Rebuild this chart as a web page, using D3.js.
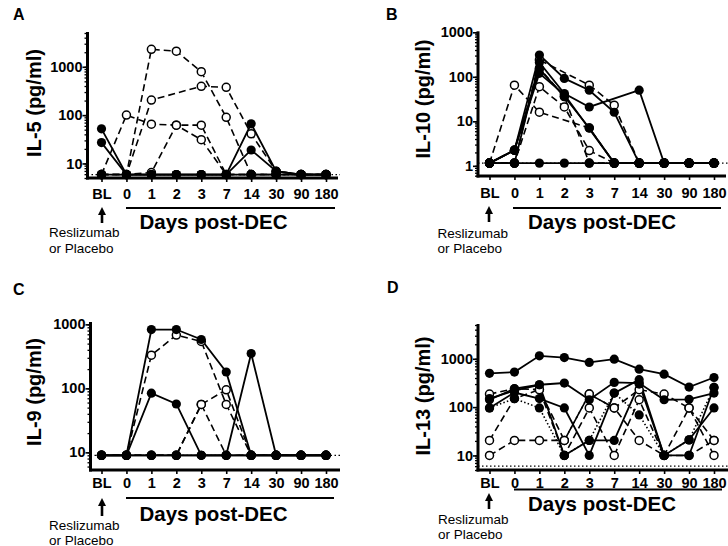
<!DOCTYPE html>
<html><head><meta charset="utf-8">
<script src="https://cdn.jsdelivr.net/npm/d3@7"></script>
<style>body{margin:0;background:#fff}svg{display:block}</style>
</head><body><svg id="c" width="728" height="546"></svg>
<script>
// ---------- DATA ----------
const days = ["BL","0","1","2","3","7","14","30","90","180"];
const yTicksA = [10, 100, 1000];
const yTicksB = [1, 10, 100, 1000];
const yTicksC = [10, 100, 1000];
const yTicksD = [10, 100, 1000];
const lodA = 5.9, lodB = 1.15, lodC = 9, lodD = 6;

// IL-5 (A)
const il5Filled = [
  [52, 5.9, 5.9, 5.9, 5.9, 5.9, 66, 6.9, 5.9, 5.9],
  [27, 5.9, 5.9, 5.9, 5.9, 5.9, 19, 6.9, 5.9, 5.9],
  [5.9, 5.9, 5.9, 5.9, 5.9, 5.9, 5.9, 5.9, 5.9, 5.9]
];
const il5Open = [
  [5.9, 5.9, 2300, 2100, 790, 90, 5.9, 5.9, 5.9, 5.9],
  [5.9, 5.9, 205, null, 395, 375, 41, 6.9, 5.9, 5.9],
  [5.9, 100, 65, 62, 62, 5.9, 5.9, 5.9, 5.9, 5.9],
  [5.9, 5.9, 6.5, 62, 31, 5.9, 5.9, 5.9, 5.9, 5.9]
];

// IL-10 (B)
const il10Filled = [
  [1.15, 2.25, 308, 92, 50, 16, 1.15, 1.15, 1.15, 1.15],
  [1.15, 1.15, 210, 42, 21, null, 50, 1.15, 1.15, 1.15],
  [1.15, 2.25, 150, 36, 7.1, 1.15, 1.15, 1.15, 1.15, 1.15],
  [1.15, 2.25, 120, 40, null, 1.15, 1.15, 1.15, 1.15, 1.15],
  [1.15, 1.15, 1.15, 1.15, 1.15, 1.15, 1.15, 1.15, 1.15, 1.15]
];
const il10Open = [
  [1.15, 65, 16, null, 7.1, 1.15, 1.15, 1.15, 1.15, 1.15],
  [1.15, 1.15, 60, 21, 2.2, 1.15, 1.15, 1.15, 1.15, 1.15],
  [1.15, 1.15, 240, null, 65, 23, 1.15, 1.15, 1.15, 1.15],
  [1.15, 2.25, 155, 36, 1.15, 1.15, 1.15, 1.15, 1.15, 1.15]
];

// IL-9 (C)
const il9Filled = [
  [9, 9, 830, 830, 580, 180, 9, 9, 9, 9],
  [9, 9, 84, 57, 9, 9, 9, 9, 9, 9],
  [9, 9, 9, 9, 9, 9, 350, 9, 9, 9],
  [9, 9, 9, 9, 9, 9, 9, 9, 9, 9]
];
const il9Open = [
  [9, 9, 330, 680, 540, 56, 9, 9, 9, 9],
  [9, 9, 9, 9, 56, 95, 9, 9, 9, 9],
  [9, 9, 9, 9, 56, 9, 9, 9, 9, 9]
];

// IL-13 (D)
const il13Filled = [
  [500, 530, 1150, 1060, 840, 980, 610, 480, 260, 410],
  [142, 240, 290, 315, 142, 325, 315, 142, 145, 195],
  [96, 200, 150, 96, 10, 195, 370, 10, 21, 96],
  [150, 220, 290, 10, 20.5, 20.5, 300, 10, 10, 255]
];
const il13FilledDotted = [
  [96, 150, 96, 10, 20.5, 195, 69, 10, 21, 255]
];
const il13Open = [
  [186, 240, 230, 20.5, 186, 96, 230, 186, 96, 10],
  [20.5, 150, 230, 10, 96, 10, 142, 10, 96, 20.5],
  [10, 20.5, 20.5, 20.5, 186, 96, 20.5, 10, 10, 20.5]
];

// ---------- LAYOUT ----------
const FONT = "'Liberation Sans', Arial, Helvetica, sans-serif";
const svg = d3.select("#c");

const panels = [
  {letter:"A", lx:13, ly:20, title:"IL-5 (pg/ml)", tx:33.5, ty:103,
   yDomain:[5,5000], yRange:[178,33], yTicks:yTicksA, axisX:87.5, axisY:178, xEnd:338,
   xRange:[101.5,326], lodEnd:340, xPad:6.5, brY:208, brX:[126,335], dpY:229, dpX:213.5,
   arX:102, arY:[207,223], rsX:49, rsY:[237,253]},
  {letter:"B", lx:386, ly:20, title:"IL-10 (pg/ml)", tx:423, ty:99,
   yDomain:[0.6,1000], yRange:[175.7,32.3], yTicks:yTicksB, axisX:478, axisY:176, xEnd:726,
   xRange:[489.5,714], lodEnd:728, xPad:7.5, brY:208, brX:[513,721], dpY:229, dpX:602,
   arX:489, arY:[206,222], rsX:437.5, rsY:[238,253]},
  {letter:"C", lx:13, ly:295, title:"IL-9 (pg/ml)", tx:33.5, ty:392,
   yDomain:[5.3,1050], yRange:[470,323], yTicks:yTicksC, axisX:90.5, axisY:470, xEnd:340,
   xRange:[101.5,326], lodEnd:340, xPad:3.5, brY:498, brX:[126,334], dpY:520.5, dpX:213.5,
   arX:102, arY:[498,516], rsX:49, rsY:[530,544.5]},
  {letter:"D", lx:387, ly:293, title:"IL-13 (pg/ml)", tx:423, ty:396,
   yDomain:[5,5000], yRange:[470,325], yTicks:yTicksD, axisX:478, axisY:470, xEnd:728,
   xRange:[489.5,714], lodEnd:728, xPad:3.5, brY:489.5, brX:[514,722], dpY:510.5, dpX:602,
   arX:489, arY:[493,509], rsX:438, rsY:[524,539]}
];

function drawPanel(p, filledSolid, openDashed, filledDotted, lod) {
  const g = svg.append("g");
  const x = d3.scalePoint().domain(days).range(p.xRange);
  const y = d3.scaleLog().domain(p.yDomain).range(p.yRange);

  // panel letter
  g.append("text").attr("x", p.lx).attr("y", p.ly).text(p.letter)
    .attr("font-family", FONT).attr("font-weight", "bold").attr("font-size", 16);
  // y title
  g.append("text").attr("transform", `translate(${p.tx},${p.ty}) rotate(-90)`)
    .attr("text-anchor", "middle").attr("dy", "0.36em").text(p.title)
    .attr("font-family", FONT).attr("font-weight", "bold").attr("font-size", 20);

  // detection-limit dotted line
  g.append("line").attr("x1", p.axisX).attr("x2", p.lodEnd)
    .attr("y1", y(lod)).attr("y2", y(lod))
    .attr("stroke", "#000").attr("stroke-width", 1.2).attr("stroke-dasharray", "1.5,2.5");

  // minor y ticks
  const minor = [];
  for (let e = -1; e <= 4; e++) for (let m = 1; m < 10; m++) {
    const v = +(m * Math.pow(10, e)).toPrecision(3);
    if (v >= p.yDomain[0] && v <= p.yDomain[1]) minor.push(v);
  }
  const mg = g.append("g").attr("transform", `translate(${p.axisX},0)`)
    .call(d3.axisLeft(y).tickValues(minor).tickSize(3).tickFormat(""));
  mg.select(".domain").remove();
  mg.selectAll("line").attr("stroke-width", 1.3);

  const yg = g.append("g").attr("transform", `translate(${p.axisX},0)`)
    .call(d3.axisLeft(y).tickValues(p.yTicks).tickSize(5).tickPadding(0).tickFormat(d3.format("d")));
  yg.select(".domain").remove();
  yg.selectAll("line").attr("stroke-width", 1.6);
  yg.attr("font-family", FONT).attr("font-size", 14.5).attr("font-weight", "bold");

  // x axis ticks & labels
  const xg = g.append("g").attr("transform", `translate(0,${p.axisY})`)
    .call(d3.axisBottom(x).tickSize(4).tickPadding(p.xPad));
  xg.select(".domain").remove();
  xg.selectAll("line").attr("stroke-width", 1.6);
  xg.attr("font-family", FONT).attr("font-size", 14.5).attr("font-weight", "bold");

  // axis lines
  g.append("line").attr("x1", p.axisX).attr("x2", p.axisX)
    .attr("y1", p.yRange[1] - 1).attr("y2", p.axisY + 1.5)
    .attr("stroke", "#000").attr("stroke-width", 3);
  g.append("line").attr("x1", p.axisX - 1.5).attr("x2", p.xEnd)
    .attr("y1", p.axisY).attr("y2", p.axisY)
    .attr("stroke", "#000").attr("stroke-width", 3);

  // bracket + "Days post-DEC"
  g.append("line").attr("x1", p.brX[0]).attr("x2", p.brX[1])
    .attr("y1", p.brY).attr("y2", p.brY).attr("stroke", "#000").attr("stroke-width", 2.2);
  g.append("text").attr("x", p.dpX).attr("y", p.dpY).attr("text-anchor", "middle")
    .text("Days post-DEC").attr("font-family", FONT).attr("font-weight", "bold").attr("font-size", 20.5);

  // arrow
  g.append("line").attr("x1", p.arX).attr("x2", p.arX).attr("y1", p.arY[0] + 6).attr("y2", p.arY[1])
    .attr("stroke", "#000").attr("stroke-width", 2.6);
  g.append("path").attr("d", `M${p.arX},${p.arY[0]} l-4,8 l8,0 z`).attr("fill", "#000");
  g.append("text").attr("x", p.rsX).attr("y", p.rsY[0]).text("Reslizumab")
    .attr("font-family", FONT).attr("font-size", 13.5);
  g.append("text").attr("x", p.rsX).attr("y", p.rsY[1]).text("or Placebo")
    .attr("font-family", FONT).attr("font-size", 13.5);

  const toPts = s => s.map((v, i) => ({d: days[i], v})).filter(o => o.v != null);
  const line = d3.line().x(o => x(o.d)).y(o => y(o.v));

  const drawLines = (arr, dash, w) => arr.forEach(s => {
    g.append("path").attr("d", line(toPts(s))).attr("fill", "none")
      .attr("stroke", "#000").attr("stroke-width", w)
      .attr("stroke-dasharray", dash);
  });
  drawLines(openDashed, "7,4", 1.6);
  drawLines(filledDotted, "1.5,2.2", 1.6);
  drawLines(filledSolid, null, 1.8);

  const drawMarks = (arr, filled) => arr.forEach(s => {
    g.selectAll(null).data(toPts(s)).enter().append("circle")
      .attr("cx", o => x(o.d)).attr("cy", o => y(o.v)).attr("r", filled ? 4.6 : 4.0)
      .attr("fill", filled ? "#000" : "#fff").attr("stroke", "#000")
      .attr("stroke-width", filled ? 0 : 1.5);
  });
  drawMarks(openDashed, false);
  drawMarks(filledDotted, true);
  drawMarks(filledSolid, true);
}

drawPanel(panels[0], il5Filled, il5Open, [], lodA);
drawPanel(panels[1], il10Filled, il10Open, [], lodB);
drawPanel(panels[2], il9Filled, il9Open, [], lodC);
drawPanel(panels[3], il13Filled, il13Open, il13FilledDotted, lodD);
</script>
</body></html>
